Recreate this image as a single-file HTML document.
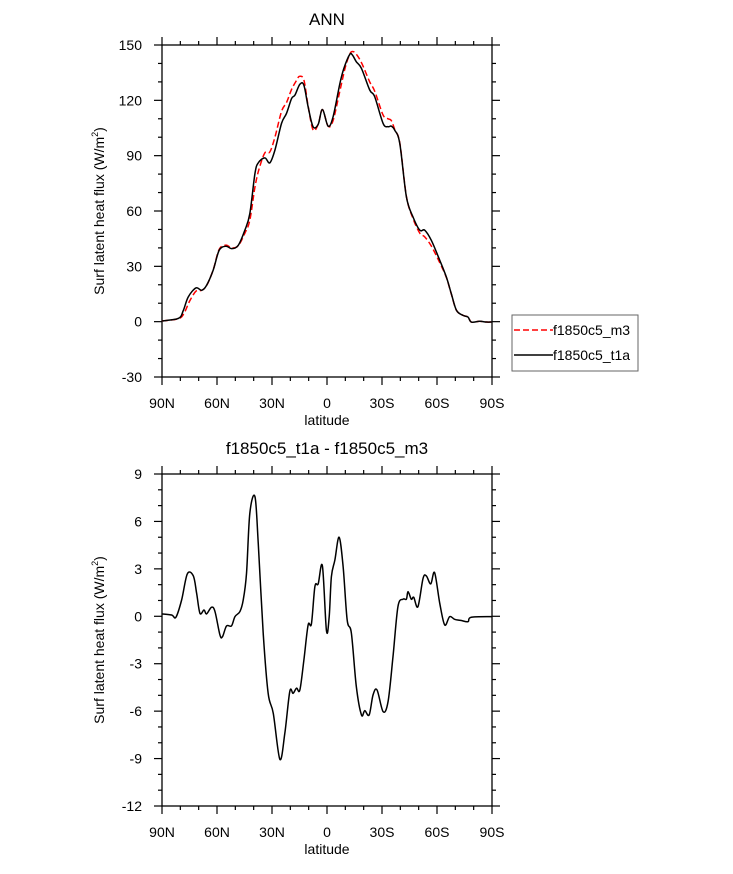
<!DOCTYPE html>
<html><head><meta charset="utf-8"><style>
body{margin:0;background:#fff}
svg text{font-family:"Liberation Sans",sans-serif;fill:#000}
</style></head><body>
<svg id="c" width="733" height="869" viewBox="0 0 733 869" xmlns="http://www.w3.org/2000/svg"></svg>
<script>
// degrees from 90N (0) to 90S (180)
const topLat=[0,9,11.6,14.3,18.5,21.6,24.3,27.9,31.2,34.9,38,41.6,45.2,47.9,50.7,52.5,56.1,58.8,61.6,65.2,67.9,70.7,72.5,75.2,77.4,79.7,82.4,85.2,87.5,90.6,93.3,97,99.2,102.4,103.9,106,108.8,113.3,116,120.6,123.3,125.1,126.9,129.7,133.3,136.9,140.6,143.3,146.9,151.5,155.1,157.8,160.6,164.2,166.9,168.7,173.3,176.9,180];
const t1a=[0.4,1.8,6,13.4,18.3,17,19.7,27.9,38.7,40.9,39.6,41.4,49.6,58.6,80.3,86.1,88.8,86.1,93,107.5,112.9,121,122.8,128.7,128.2,116.5,105.7,107,115,106,111,129,137.3,144.9,144.5,140.9,137.3,125.6,122,107.5,105.7,106,103.9,96.6,67.7,56.8,49.6,49.6,44.1,33.3,24.2,15.2,6.2,3.4,2.5,-0.2,0.2,-0.2,-0.2];
const m3Lat=[0,9,12,15,18.5,21.6,24.3,27.9,31.2,34.9,38,41.6,45.2,47.9,50.7,53,56.1,58.8,61.6,65.2,68,70.7,73.5,75,77.4,79.7,82.4,85.2,87.5,90.6,93.3,97,100,102.4,104,106,109,113.3,116,120.6,123.3,125.1,127,129.7,133.3,136.9,140.6,143.3,146.9,151.5,155.1,157.8,160.6,164.2,167,168.7,173.3,176.9,180];
const m3=[0.4,1.6,4.5,11,16.5,17,19.5,28,39.2,41.5,40,41.2,48,55,73,83,91.5,92,100,114,119,126,131,133,131,117,104,107,115,106,109,125,138,145,146.5,145,140,130,125,112,110,109,104,97,68,56,48,46,41,32,24,15,6.2,3.4,2.5,-0.2,0.2,-0.2,-0.2];
const diffLat=[0,5.3,7.6,10.7,13.8,17.1,18.9,20.7,22.9,24.3,27,28.9,31.6,33,35.2,37.9,39.8,42.5,44.3,46.1,47.9,50.7,52.5,55.2,57.9,60.7,64.3,67,69.7,71.5,73.4,75.2,77.4,79.7,81.5,83.4,85.2,87.5,89.7,91.2,92.4,94.3,96.6,98.8,101,103.3,106,108.8,110.6,113,115.1,117.3,120.6,123.3,126,128.7,131.5,133.3,134.2,136,137.3,139.6,142.4,144.2,146.6,148.7,151.5,154.2,156.9,159.6,163.3,166.9,168.7,180];
const diff=[0.15,0.08,-0.06,1.03,2.68,2.55,1.45,0.19,0.4,0.15,0.57,0.3,-1.18,-1.29,-0.61,-0.61,-0.02,0.3,1.03,2.72,6.51,7.57,4.62,-1.07,-4.87,-6.14,-9.05,-7.4,-4.76,-4.87,-4.55,-4.66,-2.76,-0.55,-0.48,1.88,2.05,3.18,-0.91,-0.02,2.51,3.56,5.0,3.14,-0.23,-1.07,-4.45,-6.24,-5.97,-6.24,-4.98,-4.66,-6.03,-5.4,-2.55,0.61,1.08,1.08,1.56,1.08,1.2,0.61,2.4,2.55,2.05,2.76,0.82,-0.55,-0.02,-0.19,-0.27,-0.34,-0.06,-0.02];
const xTicks=["90N","60N","30N","0","30S","60S","90S"];
const topYTicks=[150,120,90,60,30,0,-30];
const botYTicks=[9,6,3,0,-3,-6,-9,-12];

const svg=document.getElementById('c');
const NS='http://www.w3.org/2000/svg';
function mk(tag,attrs,parent){const e=document.createElementNS(NS,tag);for(const k in attrs)e.setAttribute(k,attrs[k]);(parent||svg).appendChild(e);return e;}
const L=162,R=492;
const xs=d=>L+(R-L)*d/180;
function path(xa,ya,sy){let p=[];for(let i=0;i<xa.length;i++)p.push([xs(xa[i]),sy(ya[i])]);
 let d='M'+p[0][0].toFixed(2)+','+p[0][1].toFixed(2);
 for(let i=0;i<p.length-1;i++){const p0=p[Math.max(0,i-1)],p1=p[i],p2=p[i+1],p3=p[Math.min(p.length-1,i+2)];
  const c1=[p1[0]+(p2[0]-p0[0])/6,p1[1]+(p2[1]-p0[1])/6],c2=[p2[0]-(p3[0]-p1[0])/6,p2[1]-(p3[1]-p1[1])/6];
  d+='C'+c1[0].toFixed(2)+','+c1[1].toFixed(2)+' '+c2[0].toFixed(2)+','+c2[1].toFixed(2)+' '+p2[0].toFixed(2)+','+p2[1].toFixed(2);}
 return d;}
function panel(T,B,ymax,ymin,yTicks,minorStep,name){
 const sy=v=>T+(B-T)*(ymax-v)/(ymax-ymin);
 const g=mk('g',{});
 mk('rect',{x:L,y:T,width:R-L,height:B-T,fill:'none',stroke:'#000','stroke-width':1.3},g);
 for(let d=0;d<=180;d+=10){const x=xs(d),len=d%30==0?8:4;
  mk('line',{x1:x,y1:B,x2:x,y2:B+len,stroke:'#000','stroke-width':1.2},g);
  mk('line',{x1:x,y1:T,x2:x,y2:T-len,stroke:'#000','stroke-width':1.2},g);}
 xTicks.forEach((t,i)=>{const e=mk('text',{x:xs(i*30),y:B+31,'text-anchor':'middle','font-size':14},g);e.textContent=t;});
 for(let v=ymin;v<=ymax+1e-9;v+=minorStep){const y=sy(v),maj=yTicks.some(t=>Math.abs(t-v)<1e-6),len=maj?8:4;
  mk('line',{x1:L,y1:y,x2:L-len,y2:y,stroke:'#000','stroke-width':1.2},g);
  mk('line',{x1:R,y1:y,x2:R+len,y2:y,stroke:'#000','stroke-width':1.2},g);}
 yTicks.forEach(t=>{const e=mk('text',{x:L-20,y:sy(t)+5,'text-anchor':'end','font-size':14},g);e.textContent=t;});
 const xl=mk('text',{x:327,y:B+48,'text-anchor':'middle','font-size':14},g);xl.textContent='latitude';
 
 const cy=(T+B)/2;
 const yl=mk('text',{x:0,y:0,'text-anchor':'middle','font-size':14,transform:`translate(104,${cy}) rotate(-90)`},g);
 yl.innerHTML='Surf latent heat flux (W/m<tspan dy="-6" font-size="9">2</tspan><tspan dy="6">)</tspan>';
 
 return sy;}
const sy1=panel(45,377,150,-30,topYTicks,10,'top-panel');
const sy2=panel(474,806,9,-12,botYTicks,1,'bottom-panel');
let e=mk('path',{d:path(m3Lat,m3,sy1),fill:'none',stroke:'#f00','stroke-width':1.5,'stroke-dasharray':'6,3'});

e=mk('path',{d:path(topLat,t1a,sy1),fill:'none',stroke:'#000','stroke-width':1.5});

e=mk('path',{d:path(diffLat,diff,sy2),fill:'none',stroke:'#000','stroke-width':1.5});

e=mk('text',{x:327,y:25,'text-anchor':'middle','font-size':17});e.textContent='ANN';

e=mk('text',{x:327,y:454,'text-anchor':'middle','font-size':17});e.textContent='f1850c5_t1a - f1850c5_m3';

const lg=mk('g',{});
mk('rect',{x:512,y:315,width:126,height:56,fill:'#fff',stroke:'#666','stroke-width':1},lg);
mk('line',{x1:514,y1:330,x2:553,y2:330,stroke:'#f00','stroke-width':1.5,'stroke-dasharray':'6,3'},lg);
mk('line',{x1:514,y1:355,x2:553,y2:355,stroke:'#000','stroke-width':1.5},lg);
e=mk('text',{x:553,y:335,'font-size':14},lg);e.textContent='f1850c5_m3';

e=mk('text',{x:553,y:360,'font-size':14},lg);e.textContent='f1850c5_t1a';

</script>
</body></html>
